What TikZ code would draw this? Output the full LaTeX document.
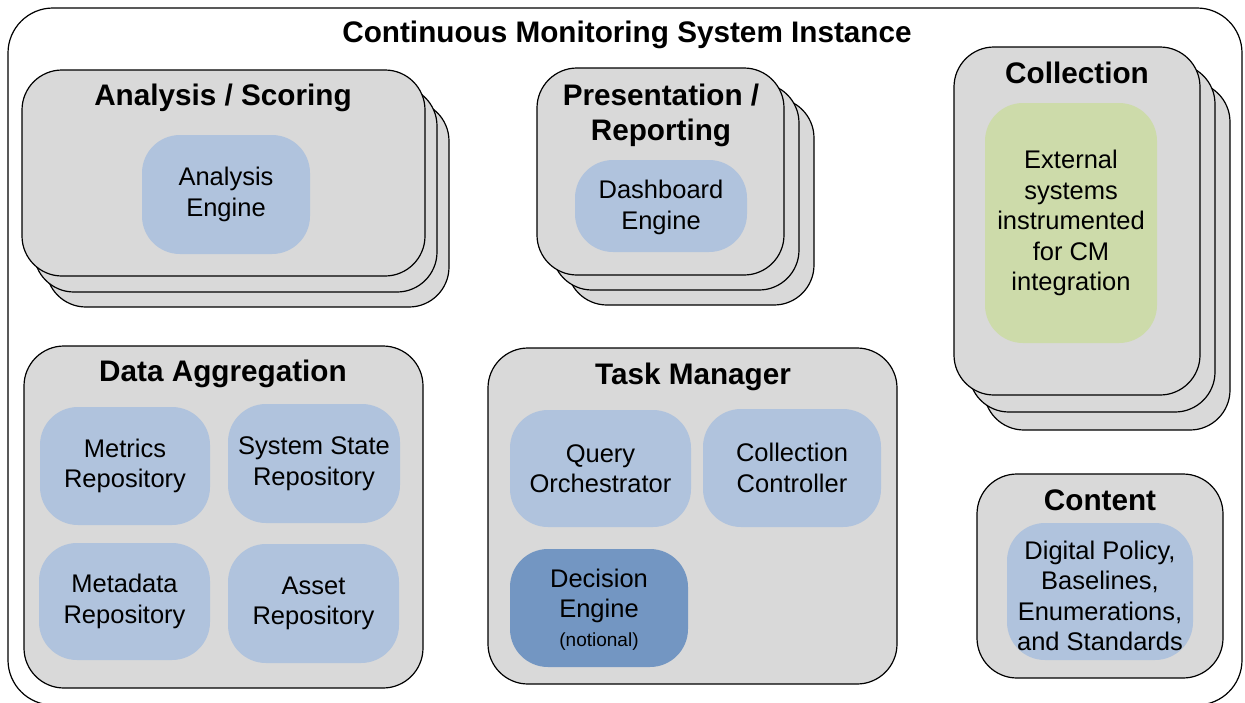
\documentclass[tikz,border=0pt]{standalone}
\usepackage{fontspec}
\setmainfont{Liberation Sans}

\definecolor{boxgrey}{RGB}{217,217,217}
\definecolor{partblue}{RGB}{176,195,221}
\definecolor{deepblue}{RGB}{115,150,194}
\definecolor{partgreen}{RGB}{205,219,170}

\begin{document}
\begin{tikzpicture}[
        x = 1pt, y = -1pt,
        line join=round,
        group/.style = {draw, line width=1.2pt, fill=boxgrey, rounded corners=40pt, inner sep=0pt},
        part/.style = {fill=partblue, rounded corners=38pt, inner sep=0pt, align=center,
                       font=\fontsize{25.5}{30.5}\selectfont},
        head/.style = {inner sep=0pt, align=center, font=\fontsize{29.7}{35}\selectfont\bfseries}
    ]
        \useasboundingbox (0,0) rectangle (1245,702);
        \clip (0,0) rectangle (1245,702);

        % outer frame
        \node[group, fill=white, rounded corners=45pt, minimum width=1234pt, minimum height=697pt] (cms) at (625,356.5) {};
        \node[head] (cmstitle) at (627,35) {Continuous Monitoring System Instance};

        % analysis / scoring stack
        \node[group, minimum width=403pt, minimum height=206pt] (ana3) at (247.5,204) {};
        \node[group, minimum width=403pt, minimum height=206pt] (ana2) at (235.5,189) {};
        \node[group, minimum width=403pt, minimum height=206pt] (ana) at (223.5,173) {};
        \node[head] (anatitle) at (223,97.5) {Analysis / Scoring};
        \node[part, minimum width=168pt, minimum height=119pt] (anaeng) at (226,194.5) {Analysis\\Engine};

        % presentation / reporting stack
        \node[group, minimum width=247pt, minimum height=207pt] (pres3) at (690.5,201.5) {};
        \node[group, minimum width=247pt, minimum height=207pt] (pres2) at (675.5,186.5) {};
        \node[group, minimum width=247pt, minimum height=207pt] (pres) at (660.5,171.5) {};
        \node[head] (prestitle) at (661,115) {Presentation /\\Reporting};
        \node[part, minimum width=172pt, minimum height=92pt] (dash) at (661,206) {};
        \node[part, fill=none] (dashtext) at (661,207.5) {Dashboard\\Engine};

        % collection stack
        \node[group, minimum width=246pt, minimum height=348pt] (coll3) at (1107,256) {};
        \node[group, minimum width=246pt, minimum height=348pt] (coll2) at (1092,238) {};
        \node[group, minimum width=246pt, minimum height=348pt] (coll) at (1077,221) {};
        \node[head] (colltitle) at (1077,73) {Collection};
        \node[part, fill=partgreen, minimum width=172pt, minimum height=240pt] (ext) at (1071,223)
            {External\\systems\\instrumented\\for CM\\integration};

        % data aggregation
        \node[group, minimum width=399pt, minimum height=342pt] (agg) at (223.5,517) {};
        \node[head] (aggtitle) at (223,373.5) {Data Aggregation};
        \node[part, minimum width=170pt, minimum height=118pt] (metrics) at (125,466) {Metrics\\Repository};
        \node[part, minimum width=172pt, minimum height=119pt] (state) at (314,463.5) {System State\\Repository};
        \node[part, minimum width=171pt, minimum height=117pt] (meta) at (124.5,601.5) {Metadata\\Repository};
        \node[part, minimum width=171pt, minimum height=119pt] (asset) at (313.5,603.5) {Asset\\Repository};

        % task manager
        \node[group, minimum width=409pt, minimum height=336pt] (task) at (692.5,516) {};
        \node[head] (tasktitle) at (693,376.5) {Task Manager};
        \node[part, minimum width=181pt, minimum height=117pt] (query) at (600.5,468.5) {Query\\Orchestrator};
        \node[part, minimum width=178pt, minimum height=118pt] (ctrl) at (792,468) {Collection\\Controller};
        \node[part, fill=deepblue, minimum width=178pt, minimum height=118pt] (decide) at (599,608) {};
        \node[part, fill=none] (decidetext) at (599,609.5)
            {Decision\\Engine\\[-2pt]{\fontsize{19}{24}\selectfont (notional)}};

        % content
        \node[group, minimum width=246pt, minimum height=204pt] (cont) at (1100,576) {};
        \node[head] (conttitle) at (1100,500) {Content};
        \node[part, minimum width=186pt, minimum height=137pt] (policy) at (1100,591.5) {};
        \node[part, fill=none] (policytext) at (1100,596)
            {Digital Policy,\\Baselines,\\Enumerations,\\and Standards};

    \end{tikzpicture}
\end{document}
